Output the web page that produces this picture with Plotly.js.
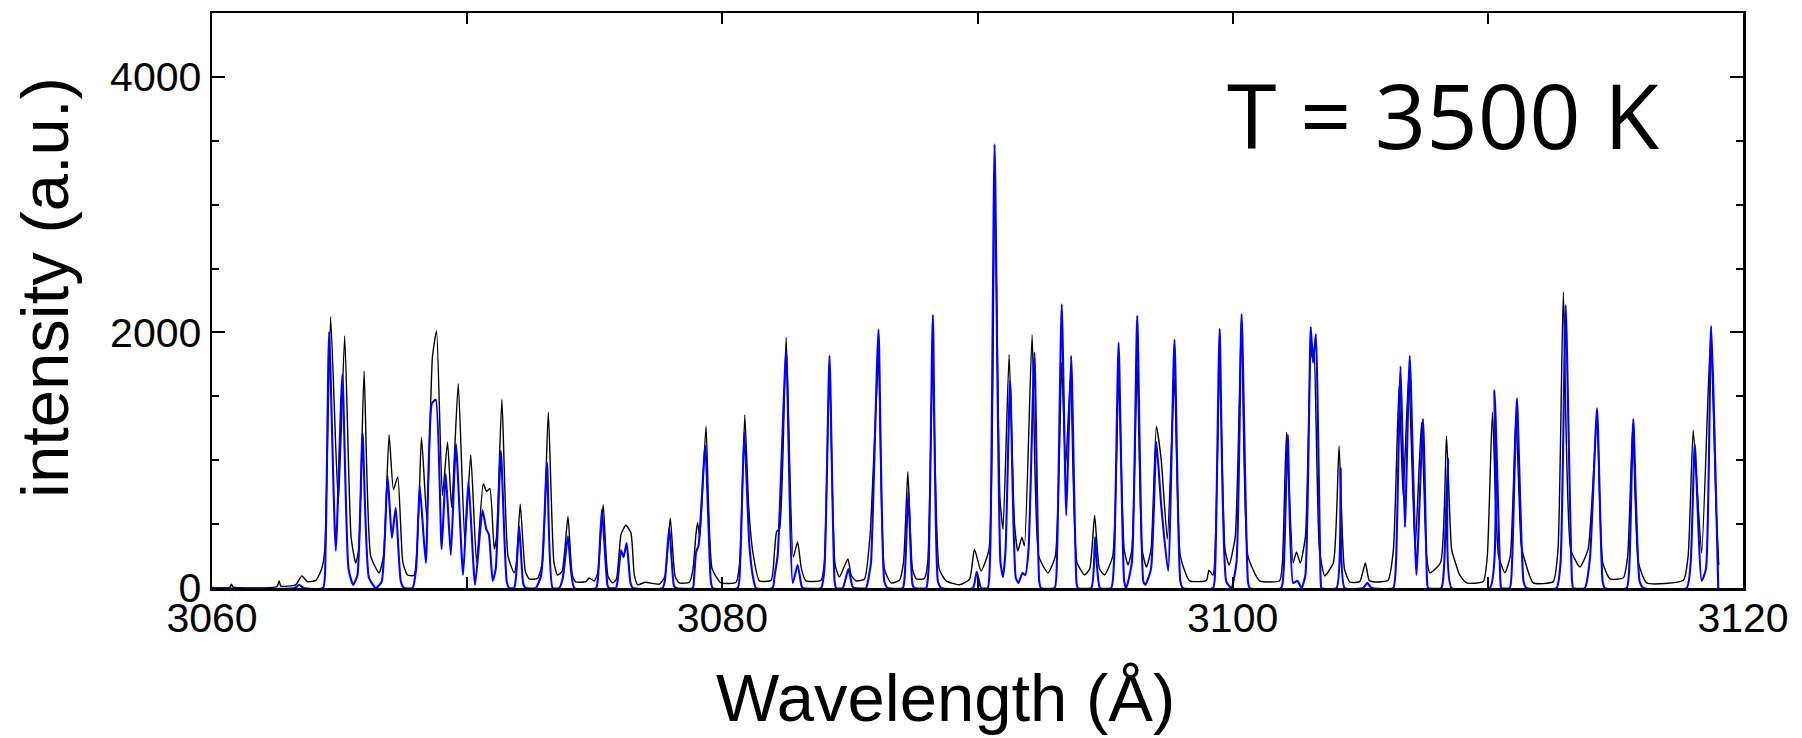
<!DOCTYPE html>
<html>
<head>
<meta charset="utf-8">
<script src="https://cdn.plot.ly/plotly-3.0.1.min.js"></script>
<style>
  html, body { margin: 0; padding: 0; background: #fff; }
  #chart { width: 1802px; height: 738px; }
</style>
</head>
<body>
<div id="chart"></div>
<script>
// Black spectrum: wavelength (Å) and intensity (a.u.) vertices
const blackWavelength = [
  3060.00, 3060.70, 3060.76, 3060.82, 3062.55, 3062.63, 3062.70, 3063.28, 3063.52, 3063.74,
  3064.07, 3064.30, 3064.42, 3064.65, 3064.95, 3065.20, 3065.45, 3065.63, 3065.75, 3065.96,
  3066.22, 3066.55, 3066.72, 3066.94, 3067.11, 3067.28, 3067.48, 3067.66, 3067.92, 3068.21,
  3068.42, 3068.64, 3068.80, 3069.03, 3069.23, 3069.39, 3069.65, 3069.91, 3070.14, 3070.37,
  3070.63, 3070.76, 3070.89, 3071.06, 3071.15, 3071.36, 3071.60, 3071.84, 3071.92, 3072.08,
  3072.28, 3072.43, 3072.76, 3072.95, 3073.18, 3073.40, 3073.54, 3073.72, 3073.95, 3074.12,
  3074.26, 3074.65, 3074.78, 3074.98, 3075.12, 3075.33, 3075.52, 3075.70, 3075.85, 3076.03,
  3076.22, 3076.42, 3076.55, 3076.68, 3076.98, 3077.53, 3077.75, 3077.96, 3078.15, 3078.31,
  3078.71, 3078.85, 3078.97, 3079.03, 3079.12, 3079.36, 3079.60, 3079.95, 3080.54, 3080.68,
  3080.88, 3081.03, 3081.19, 3081.45, 3081.91, 3082.05, 3082.13, 3082.24, 3082.50, 3082.78,
  3082.95, 3083.10, 3083.28, 3083.87, 3084.00, 3084.20, 3084.42, 3084.59, 3084.92, 3085.05,
  3085.24, 3085.57, 3085.79, 3086.12, 3086.35, 3086.61, 3086.94, 3087.10, 3087.27, 3087.45,
  3087.60, 3087.92, 3088.05, 3088.25, 3088.50, 3088.77, 3089.29, 3089.69, 3089.88, 3090.14,
  3090.45, 3090.67, 3090.88, 3091.00, 3091.24, 3091.45, 3091.58, 3091.74, 3091.84, 3092.14,
  3092.40, 3092.76, 3093.05, 3093.30, 3093.45, 3093.65, 3093.90, 3094.20, 3094.40, 3094.59,
  3094.78, 3094.98, 3095.30, 3095.53, 3095.75, 3095.90, 3096.05, 3096.26, 3096.45, 3096.62,
  3096.80, 3097.01, 3097.20, 3097.44, 3097.72, 3097.95, 3098.31, 3098.97, 3099.07, 3099.23,
  3099.49, 3099.70, 3099.86, 3100.10, 3100.35, 3100.60, 3101.06, 3101.84, 3101.95, 3102.11,
  3102.37, 3102.50, 3102.65, 3102.85, 3103.06, 3103.12, 3103.19, 3103.40, 3103.61, 3103.95,
  3104.17, 3104.38, 3104.59, 3104.98, 3105.20, 3105.35, 3105.57, 3106.09, 3106.30, 3106.52,
  3106.68, 3106.90, 3107.15, 3107.40, 3107.60, 3107.73, 3108.15, 3108.38, 3108.58, 3108.71,
  3108.90, 3109.16, 3109.82, 3109.98, 3110.18, 3110.42, 3110.67, 3110.88, 3111.10, 3111.30,
  3111.39, 3111.78, 3112.56, 3112.75, 3112.96, 3113.25, 3113.61, 3113.93, 3114.28, 3114.50,
  3114.79, 3115.31, 3115.48, 3115.68, 3115.90, 3116.23, 3117.66, 3117.85, 3118.05, 3118.38,
  3118.73, 3118.95, 3119.05
];
const blackIntensity = [
     5,    5,   30,    8,   12,   55,   15,   25,   95,   50,
    60,  150,  300, 2121,  660, 1972,  400,  195,  300, 1696,
   250,  118,  250, 1199,  770,  870,  200,  102,  100, 1180,
   537, 1810, 2012,  724, 1143,  630, 1599,  366, 1043,  196,
   817,  755,  780,  304,  400, 1475,  250,  118,  180,  655,
   130,   71,   75,  200, 1376,  200,  102,  130,  559,  100,
    47,   50,   78,   55,  120,  652,   90,   40,   70,  420,
   491,  430,  100,   25,   45,   30,   90,  547,   90,   40,
    45,  150,  428,  512,  400, 1267,  150,   40,   45,  200,
  1354,  646,  289,   56,   60,  300,  444,  460, 1960,  242,
   360,  150,   56,   60,  200, 1733,  180,   87,  227,  100,
    56,   70,  413, 1780,  150,   40,   60,  200,  910,  150,
    71,   75,  200, 1795,  150,   56,   25,   70,  304,  133,
   300, 3208,  700,  460, 1825,  500,  289,  398,  330, 1981,
   250,  118,  250, 1764,  941, 1671,  200,  102,  150,  568,
   150,  102,  250, 1640,  300,  180,  300, 1733,  300,  164,
   300, 1267, 1003,  382, 1640,  250,   56,   60,  140,  100,
  1748,  300,  180,  400, 2121,  250,   56,   56,  200, 1220,
   196,  283,  196,  400, 1888, 1800, 1870,  300,   96,  200,
  1112,  150,   47,   50,  196,   60,   47,   60,  300, 1578,
   724, 1671,  304, 1298,  250,  118,  200, 1189,  300,  211,
   100,   40,   50,  250, 1376,  250,  118,  250, 1345,  350,
   258,   40,   50,  300, 2314,  300,  164,  304, 1345,  200,
    71,   80,  250, 1267,  200,   40,   60,  250, 1236,  273,
  1966,  600,  180
];

// Blue spectrum: wavelength (Å) and intensity (a.u.) vertices
const blueWavelength = [
  3060.00, 3063.25, 3063.41, 3063.60, 3064.35, 3064.45, 3064.59, 3064.85, 3065.11, 3065.35,
  3065.53, 3065.70, 3065.90, 3066.15, 3066.42, 3066.65, 3066.88, 3067.05, 3067.20, 3067.40,
  3067.53, 3067.86, 3068.00, 3068.14, 3068.38, 3068.61, 3068.77, 3069.00, 3069.16, 3069.36,
  3069.56, 3069.84, 3070.05, 3070.31, 3070.60, 3070.75, 3070.85, 3071.00, 3071.12, 3071.32,
  3071.55, 3071.65, 3071.84, 3071.92, 3072.04, 3072.20, 3072.30, 3072.69, 3072.90, 3073.13,
  3073.35, 3073.61, 3073.75, 3073.95, 3074.20, 3075.05, 3075.12, 3075.28, 3075.50, 3075.56,
  3075.83, 3075.90, 3076.03, 3076.13, 3076.25, 3076.40, 3076.49, 3077.66, 3077.75, 3077.92,
  3078.10, 3078.18, 3078.84, 3078.90, 3078.97, 3079.07, 3079.33, 3079.55, 3079.62, 3080.60,
  3080.70, 3080.86, 3081.06, 3081.19, 3081.32, 3081.97, 3082.05, 3082.17, 3082.50, 3082.76,
  3082.95, 3083.10, 3083.15, 3083.87, 3084.00, 3084.20, 3084.40, 3084.46, 3084.72, 3084.94,
  3085.10, 3085.18, 3085.63, 3085.75, 3085.83, 3086.12, 3086.35, 3086.48, 3087.07, 3087.15,
  3087.29, 3087.45, 3087.53, 3087.99, 3088.08, 3088.25, 3088.45, 3088.58, 3089.82, 3089.97,
  3090.14, 3090.40, 3090.50, 3090.67, 3090.90, 3091.00, 3091.10, 3091.28, 3091.50, 3091.61,
  3091.76, 3091.87, 3092.00, 3092.23, 3092.42, 3092.49, 3093.02, 3093.12, 3093.30, 3093.48,
  3093.67, 3093.88, 3093.93, 3094.46, 3094.61, 3094.80, 3095.24, 3095.35, 3095.53, 3095.75,
  3095.83, 3096.05, 3096.26, 3096.50, 3096.58, 3096.80, 3097.01, 3097.20, 3097.47, 3097.72,
  3097.95, 3098.05, 3099.23, 3099.32, 3099.49, 3099.75, 3099.95, 3100.15, 3100.35, 3100.60,
  3100.67, 3101.90, 3102.00, 3102.16, 3102.37, 3102.54, 3102.70, 3102.85, 3103.06, 3103.15,
  3103.26, 3103.45, 3103.48, 3104.07, 3104.23, 3104.39, 3105.11, 3105.28, 3105.44, 3106.29,
  3106.40, 3106.58, 3106.75, 3106.94, 3107.20, 3107.46, 3107.62, 3107.66, 3108.18, 3108.28,
  3108.44, 3108.58, 3110.08, 3110.26, 3110.50, 3110.53, 3110.86, 3110.95, 3111.14, 3111.40,
  3111.51, 3112.69, 3112.85, 3113.05, 3113.30, 3113.35, 3113.80, 3114.00, 3114.28, 3114.50,
  3114.59, 3115.44, 3115.55, 3115.70, 3115.95, 3116.10, 3117.79, 3117.95, 3118.11, 3118.38,
  3118.55, 3118.75, 3119.03
];
const blueIntensity = [
     0,    0,   25,    0,    0,  300, 2003,  290, 1670,  150,
    25,  100, 1214,   80,    0,   50,  879,  391,  630,   50,
     0,    0,  150,  801,  196, 1440, 1475,  304,  894,  258,
  1127,  102,  838,   25,  610,  460,  420,   56,  150, 1071,
    50,    0,    0,  100,  481,   30,    0,    0,  100,  978,
     0,    0,   80,  404,    0,    0,   60,  615,   20,    0,
     0,   60,  295,  242,  351,   40,    0,    0,   60,  475,
    20,    0,    0,  100,  280,  335, 1112,   50,    0,    0,
   200, 1220,  335,  100,    0,    0,  100,  258, 1857,   40,
   180,   20,    0,    0,  150, 1817,   50,    0,    0,  149,
    10,    0,    0,  100,  211, 2022,   50,    0,    0,  100,
   755,   30,    0,    0,  150, 2137,   50,    0,    0,  127,
     0,    0,  300, 3472,  200,   87,  300, 1624,   80,   40,
   118,  100,  300, 1842,   50,    0,    0,  300, 2220,  568,
  1817,   40,    0,    0,  398,    0,    0,  200, 1919,   50,
     0,  200, 2130,   50,   25,  150, 1143,  646,  133, 1944,
    50,    0,    0,  200, 2028,   50,    0,  200, 2143,   50,
     0,    0,  150, 1199,   40,   56,    0,  100, 2043, 1764,
  1988,   50,    0,    0,  941,    0,    0,   40,    0,    0,
   200, 1733,  475, 1817,  102, 1323,   50,    0,    0,  150,
  1012,    0,    0, 1547,   30,    0,    0,  200, 1484,   50,
     0,    0,  200, 2214,   50,    0,    0,  227, 1407,   50,
     0,    0,  200, 1323,   50,    0,    0,  200, 1127,   56,
   150, 2050,    0
];

const xTickValues = [3060, 3080, 3100, 3120];
const yTickValues = [0, 2000, 4000];
const temperatureLabel = 'T = 3500 K';
const xTitle = 'Wavelength (Å)';
const yTitle = 'intensity (a.u.)';

const tickFont = { family: 'Liberation Sans, Arial, sans-serif', size: 41, color: '#000' };
const titleFont = { family: 'Liberation Sans, Arial, sans-serif', size: 67, color: '#000' };

const traces = [
  {
    x: blackWavelength, y: blackIntensity, type: 'scatter', mode: 'lines',
    line: { color: '#000000', width: 1.4, shape: 'spline', smoothing: 0.5 },
    name: 'black', hoverinfo: 'skip'
  },
  {
    x: blueWavelength, y: blueIntensity, type: 'scatter', mode: 'lines',
    line: { color: '#0000ff', width: 2.1, shape: 'spline', smoothing: 0.5 },
    name: 'blue', hoverinfo: 'skip'
  }
];

const layout = {
  width: 1802, height: 738,
  margin: { l: 212, r: 59, t: 13, b: 150, pad: 0 },
  paper_bgcolor: '#ffffff', plot_bgcolor: '#ffffff',
  showlegend: false,
  xaxis: {
    range: [3060, 3120],
    tickmode: 'array', tickvals: xTickValues, ticktext: xTickValues.map(String),
    ticks: 'inside', ticklen: 11, tickwidth: 2, tickcolor: '#000',
    ticklabelstandoff: -8,
    minor: { dtick: 10, tick0: 3060, ticks: 'inside', ticklen: 11, tickwidth: 2, tickcolor: '#000', showgrid: false },
    showline: true, linewidth: 2.5, linecolor: '#000', mirror: 'ticks',
    showgrid: false, zeroline: false,
    tickfont: tickFont
  },
  yaxis: {
    range: [0, 4500],
    tickmode: 'array', tickvals: yTickValues, ticktext: yTickValues.map(String),
    ticks: 'inside', ticklen: 13, tickwidth: 2, tickcolor: '#000',
    minor: { dtick: 500, tick0: 0, ticks: 'inside', ticklen: 7, tickwidth: 2, tickcolor: '#000', showgrid: false },
    showline: true, linewidth: 2.5, linecolor: '#000', mirror: 'ticks',
    showgrid: false, zeroline: false,
    tickfont: tickFont
  },
  annotations: [
    {
      text: temperatureLabel, xref: 'paper', yref: 'paper',
      x: 0.6617, y: 0.824, xanchor: 'left', yanchor: 'middle',
      showarrow: false,
      font: { family: 'Open Sans, sans-serif', size: 90, color: '#000' }
    },
    {
      text: xTitle, xref: 'paper', yref: 'paper',
      x: 0.4794, y: -0.19, xanchor: 'center', yanchor: 'middle',
      showarrow: false, font: titleFont
    },
    {
      text: yTitle, xref: 'paper', yref: 'paper', textangle: -90,
      x: -0.109, y: 0.522, xanchor: 'center', yanchor: 'middle',
      showarrow: false, font: titleFont
    }
  ]
};

Plotly.newPlot('chart', traces, layout, { staticPlot: true, displayModeBar: false });
</script>
</body>
</html>
